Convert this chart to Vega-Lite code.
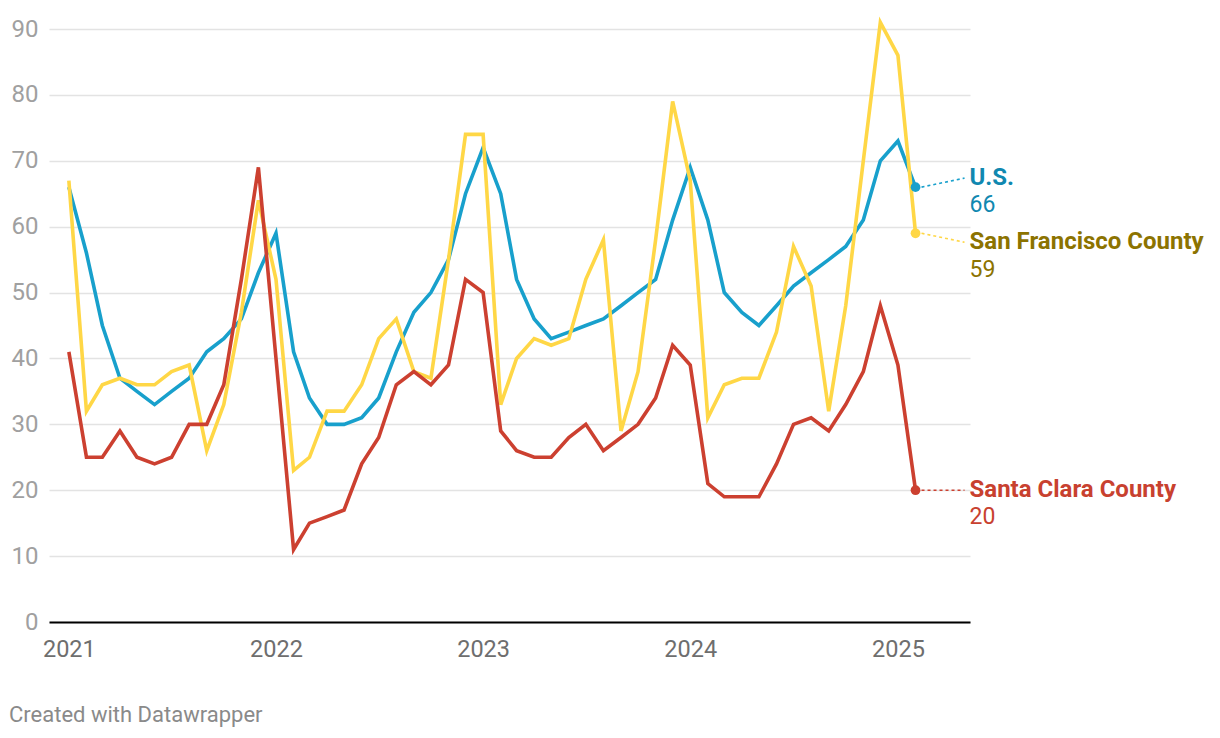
{
  "$schema": "https://vega.github.io/schema/vega-lite/v6.json",
  "autosize": {"type": "none"},
  "width": 921,
  "height": 593,
  "padding": {"left": 49, "top": 29, "right": 250, "bottom": 116},
  "background": "white",
  "config": {"font": "Roboto", "view": {"stroke": null}},
  "title": {"text": "Created with Datawrapper", "orient": "bottom", "anchor": "start", "frame": "bounds", "fontSize": 22, "fontWeight": "normal", "color": "#8a8a8a", "offset": 44, "dx": -2},
  "data": {
    "values": [
      {"d": "2021-01", "US": 66, "SF": 67, "SC": 41},
      {"d": "2021-02", "US": 56, "SF": 32, "SC": 25},
      {"d": "2021-03", "US": 45, "SF": 36, "SC": 25},
      {"d": "2021-04", "US": 37, "SF": 37, "SC": 29},
      {"d": "2021-05", "US": 35, "SF": 36, "SC": 25},
      {"d": "2021-06", "US": 33, "SF": 36, "SC": 24},
      {"d": "2021-07", "US": 35, "SF": 38, "SC": 25},
      {"d": "2021-08", "US": 37, "SF": 39, "SC": 30},
      {"d": "2021-09", "US": 41, "SF": 26, "SC": 30},
      {"d": "2021-10", "US": 43, "SF": 33, "SC": 36},
      {"d": "2021-11", "US": 46, "SF": 47, "SC": 52},
      {"d": "2021-12", "US": 53, "SF": 64, "SC": 69},
      {"d": "2022-01", "US": 59, "SF": 52, "SC": 40},
      {"d": "2022-02", "US": 41, "SF": 23, "SC": 11},
      {"d": "2022-03", "US": 34, "SF": 25, "SC": 15},
      {"d": "2022-04", "US": 30, "SF": 32, "SC": 16},
      {"d": "2022-05", "US": 30, "SF": 32, "SC": 17},
      {"d": "2022-06", "US": 31, "SF": 36, "SC": 24},
      {"d": "2022-07", "US": 34, "SF": 43, "SC": 28},
      {"d": "2022-08", "US": 41, "SF": 46, "SC": 36},
      {"d": "2022-09", "US": 47, "SF": 38, "SC": 38},
      {"d": "2022-10", "US": 50, "SF": 37, "SC": 36},
      {"d": "2022-11", "US": 55, "SF": 55, "SC": 39},
      {"d": "2022-12", "US": 65, "SF": 74, "SC": 52},
      {"d": "2023-01", "US": 72, "SF": 74, "SC": 50},
      {"d": "2023-02", "US": 65, "SF": 33, "SC": 29},
      {"d": "2023-03", "US": 52, "SF": 40, "SC": 26},
      {"d": "2023-04", "US": 46, "SF": 43, "SC": 25},
      {"d": "2023-05", "US": 43, "SF": 42, "SC": 25},
      {"d": "2023-06", "US": 44, "SF": 43, "SC": 28},
      {"d": "2023-07", "US": 45, "SF": 52, "SC": 30},
      {"d": "2023-08", "US": 46, "SF": 58, "SC": 26},
      {"d": "2023-09", "US": 48, "SF": 29, "SC": 28},
      {"d": "2023-10", "US": 50, "SF": 38, "SC": 30},
      {"d": "2023-11", "US": 52, "SF": 58, "SC": 34},
      {"d": "2023-12", "US": 61, "SF": 79, "SC": 42},
      {"d": "2024-01", "US": 69, "SF": 67, "SC": 39},
      {"d": "2024-02", "US": 61, "SF": 31, "SC": 21},
      {"d": "2024-03", "US": 50, "SF": 36, "SC": 19},
      {"d": "2024-04", "US": 47, "SF": 37, "SC": 19},
      {"d": "2024-05", "US": 45, "SF": 37, "SC": 19},
      {"d": "2024-06", "US": 48, "SF": 44, "SC": 24},
      {"d": "2024-07", "US": 51, "SF": 57, "SC": 30},
      {"d": "2024-08", "US": 53, "SF": 51, "SC": 31},
      {"d": "2024-09", "US": 55, "SF": 32, "SC": 29},
      {"d": "2024-10", "US": 57, "SF": 48, "SC": 33},
      {"d": "2024-11", "US": 61, "SF": 70, "SC": 38},
      {"d": "2024-12", "US": 70, "SF": 91, "SC": 48},
      {"d": "2025-01", "US": 73, "SF": 86, "SC": 39},
      {"d": "2025-02", "US": 66, "SF": 59, "SC": 20}
    ],
    "format": {"parse": {"d": "date:'%Y-%m'"}}
  },
  "transform": [{"fold": ["US", "SF", "SC"], "as": ["series", "value"]}],
  "encoding": {
    "x": {
      "field": "d", "type": "temporal",
      "scale": {"domain": [{"year": 2020, "month": 11, "date": 27}, {"year": 2025, "month": 5, "date": 8}]},
      "axis": {
        "title": null,
        "values": [{"year": 2021, "month": 1, "date": 1}, {"year": 2022, "month": 1, "date": 1}, {"year": 2023, "month": 1, "date": 1}, {"year": 2024, "month": 1, "date": 1}, {"year": 2025, "month": 1, "date": 1}],
        "format": "%Y", "labelFontSize": 23.5, "labelColor": "#6e6e6e", "tickSize": 0, "ticks": false,
        "labelPadding": 15, "labelFlush": false, "labelOverlap": false,
        "domainColor": "#000000", "domainWidth": 2, "grid": false
      }
    },
    "y": {
      "field": "value", "type": "quantitative",
      "scale": {"domain": [0, 90], "nice": false},
      "axis": {
        "title": null, "values": [0, 10, 20, 30, 40, 50, 60, 70, 80, 90],
        "grid": true, "gridColor": "#e3e3e3", "gridWidth": 1.5, "domain": false, "ticks": false,
        "labelPadding": 11, "labelFontSize": 24, "labelColor": "#a0a0a0"
      }
    },
    "color": {
      "field": "series", "type": "nominal",
      "scale": {"domain": ["US", "SF", "SC"], "range": ["#18a0cc", "#ffd746", "#cc4030"]},
      "legend": null
    }
  },
  "layer": [
    {"mark": {"type": "line", "strokeWidth": 3.6}},
    {
      "transform": [{"filter": "year(datum.d) == 2025 && month(datum.d) == 1"}],
      "mark": {"type": "circle", "size": 95, "opacity": 1}
    },
    {
      "transform": [{"filter": "year(datum.d) == 2025 && month(datum.d) == 1 && datum.series == 'US'"}],
      "mark": {"type": "rule", "strokeDash": [3, 3], "strokeWidth": 1.6, "xOffset": 6, "x2Offset": 49, "y2Offset": -9},
      "encoding": {"x2": {"field": "d"}, "y2": {"field": "value"}}
    },
    {
      "transform": [{"filter": "year(datum.d) == 2025 && month(datum.d) == 1 && datum.series == 'SF'"}],
      "mark": {"type": "rule", "strokeDash": [3, 3], "strokeWidth": 1.6, "xOffset": 6, "x2Offset": 49, "y2Offset": 9},
      "encoding": {"x2": {"field": "d"}, "y2": {"field": "value"}}
    },
    {
      "transform": [{"filter": "year(datum.d) == 2025 && month(datum.d) == 1 && datum.series == 'SC'"}],
      "mark": {"type": "rule", "strokeDash": [3, 3], "strokeWidth": 1.6, "xOffset": 6, "x2Offset": 49},
      "encoding": {"x2": {"field": "d"}, "y2": {"field": "value"}}
    },
    {
      "transform": [{"filter": "year(datum.d) == 2025 && month(datum.d) == 1 && datum.series == 'US'"}],
      "mark": {"type": "text", "align": "left", "baseline": "middle", "dx": 54, "dy": -9, "fontSize": 24, "fontWeight": "bold"},
      "encoding": {"text": {"value": "U.S."}, "color": {"value": "#1088b0"}}
    },
    {
      "transform": [{"filter": "year(datum.d) == 2025 && month(datum.d) == 1 && datum.series == 'US'"}],
      "mark": {"type": "text", "align": "left", "baseline": "middle", "dx": 54, "dy": 18, "fontSize": 23},
      "encoding": {"text": {"field": "value"}, "color": {"value": "#1088b0"}}
    },
    {
      "transform": [{"filter": "year(datum.d) == 2025 && month(datum.d) == 1 && datum.series == 'SF'"}],
      "mark": {"type": "text", "align": "left", "baseline": "middle", "dx": 54, "dy": 9, "fontSize": 24, "fontWeight": "bold"},
      "encoding": {"text": {"value": "San Francisco County"}, "color": {"value": "#8c7300"}}
    },
    {
      "transform": [{"filter": "year(datum.d) == 2025 && month(datum.d) == 1 && datum.series == 'SF'"}],
      "mark": {"type": "text", "align": "left", "baseline": "middle", "dx": 54, "dy": 37, "fontSize": 23},
      "encoding": {"text": {"field": "value"}, "color": {"value": "#8c7300"}}
    },
    {
      "transform": [{"filter": "year(datum.d) == 2025 && month(datum.d) == 1 && datum.series == 'SC'"}],
      "mark": {"type": "text", "align": "left", "baseline": "middle", "dx": 54, "dy": 0, "fontSize": 24, "fontWeight": "bold"},
      "encoding": {"text": {"value": "Santa Clara County"}, "color": {"value": "#c8412f"}}
    },
    {
      "transform": [{"filter": "year(datum.d) == 2025 && month(datum.d) == 1 && datum.series == 'SC'"}],
      "mark": {"type": "text", "align": "left", "baseline": "middle", "dx": 54, "dy": 27, "fontSize": 23},
      "encoding": {"text": {"field": "value"}, "color": {"value": "#c8412f"}}
    }
  ]
}
